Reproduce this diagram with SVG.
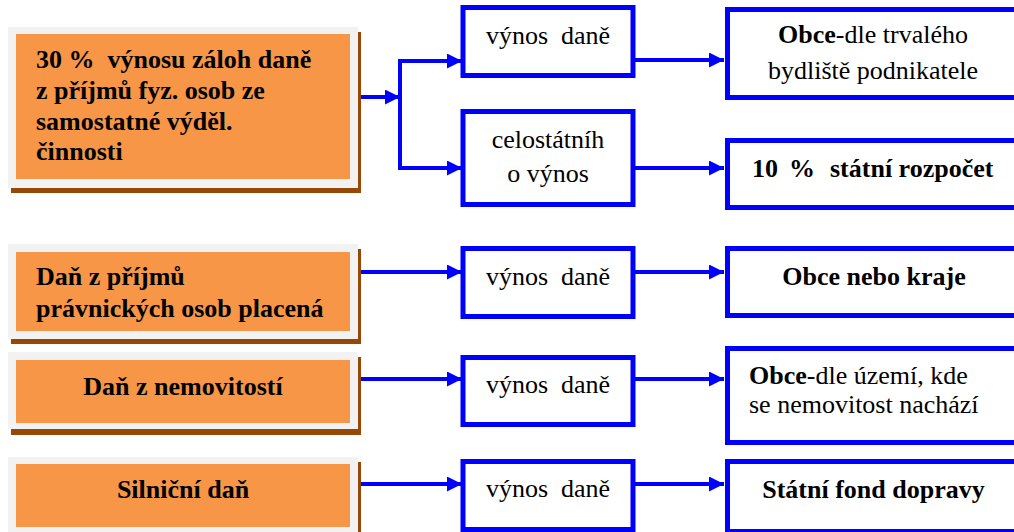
<svg xmlns="http://www.w3.org/2000/svg" width="1014" height="532" viewBox="0 0 1014 532">
<style>
.shadow{fill:#974806}
.frame{fill:#F2F2F2}
.orange{fill:#F79646}
text{font-family:'Liberation Serif','DejaVu Serif',serif;font-size:26px;fill:#000}
.bt{font-weight:bold}
.box{fill:#fff;stroke:#0000FF;stroke-width:5}
.conn{fill:none;stroke:#0000FF;stroke-width:4}
</style>
<defs>
<marker id="ah" viewBox="0 0 15 15" refX="15" refY="7.5" markerWidth="15" markerHeight="15" markerUnits="userSpaceOnUse" orient="auto">
<path d="M0,0 L15,7.5 L0,15 z" fill="#0000FF"/>
</marker>
</defs>
<rect width="1014" height="532" fill="#fff"/>

<g id="connectors">
<line class="conn" x1="354" y1="97" x2="400" y2="97" marker-end="url(#ah)"/>
<polyline class="conn" points="462,61 400,61 400,168 462,168"/>
<line class="conn" x1="440" y1="61" x2="462" y2="61" marker-end="url(#ah)"/>
<line class="conn" x1="440" y1="168" x2="462" y2="168" marker-end="url(#ah)"/>
<line class="conn" x1="635" y1="60" x2="724" y2="60" marker-end="url(#ah)"/>
<line class="conn" x1="635" y1="168" x2="724" y2="168" marker-end="url(#ah)"/>
<line class="conn" x1="354" y1="272" x2="462" y2="272" marker-end="url(#ah)"/>
<line class="conn" x1="635" y1="272" x2="724" y2="272" marker-end="url(#ah)"/>
<line class="conn" x1="354" y1="379" x2="462" y2="379" marker-end="url(#ah)"/>
<line class="conn" x1="635" y1="379" x2="724" y2="379" marker-end="url(#ah)"/>
<line class="conn" x1="354" y1="484" x2="462" y2="484" marker-end="url(#ah)"/>
<line class="conn" x1="635" y1="484" x2="724" y2="484" marker-end="url(#ah)"/>
</g>

<g id="src1">
<rect class="shadow" x="11" y="32" width="350" height="161"/>
<rect class="frame" x="8" y="27" width="350" height="161"/>
<rect class="orange" x="16" y="34" width="334" height="145"/>
<text class="bt" xml:space="preserve"><tspan x="36" y="68">30 %  výnosu záloh daně</tspan><tspan x="36" y="99">z příjmů fyz. osob ze</tspan><tspan x="36" y="130">samostatné výděl.</tspan><tspan x="36" y="160">činnosti</tspan></text>
</g>
<g id="src2">
<rect class="shadow" x="11" y="249" width="350" height="95"/>
<rect class="frame" x="8" y="244" width="350" height="95"/>
<rect class="orange" x="16" y="252" width="334" height="79"/>
<text class="bt"><tspan x="36" y="285">Daň z příjmů</tspan><tspan x="36" y="317">právnických osob placená</tspan></text>
</g>
<g id="src3">
<rect class="shadow" x="11" y="357" width="350" height="78"/>
<rect class="frame" x="8" y="352" width="350" height="77"/>
<rect class="orange" x="16" y="360" width="334" height="63"/>
<text class="bt" x="183" y="395" text-anchor="middle">Daň z nemovitostí</text>
</g>
<g id="src4">
<rect class="shadow" x="11" y="462" width="350" height="80"/>
<rect class="frame" x="8" y="457" width="350" height="80"/>
<rect class="orange" x="16" y="464" width="334" height="63"/>
<text class="bt" x="183" y="498" text-anchor="middle">Silniční daň</text>
</g>

<g id="mid1">
<rect class="box" x="463" y="7.5" width="170" height="68"/>
<text x="548" y="44" text-anchor="middle" xml:space="preserve">výnos  daně</text>
</g>
<g id="mid2">
<rect class="box" x="463" y="111.5" width="170" height="93"/>
<text text-anchor="middle"><tspan x="548" y="148">celostátníh</tspan><tspan x="548" y="182">o výnos</tspan></text>
</g>
<g id="mid3">
<rect class="box" x="463" y="248.5" width="170" height="68"/>
<text x="548" y="285" text-anchor="middle" xml:space="preserve">výnos  daně</text>
</g>
<g id="mid4">
<rect class="box" x="463" y="357.5" width="170" height="67"/>
<text x="548" y="393" text-anchor="middle" xml:space="preserve">výnos  daně</text>
</g>
<g id="mid5">
<rect class="box" x="463" y="461.5" width="170" height="68"/>
<text x="548" y="497" text-anchor="middle" xml:space="preserve">výnos  daně</text>
</g>

<g id="dst1">
<rect class="box" x="727.5" y="9.5" width="300" height="88"/>
<text x="873" y="43" text-anchor="middle"><tspan font-weight="bold">Obce</tspan>-dle trvalého</text>
<text x="873" y="79" text-anchor="middle">bydliště podnikatele</text>
</g>
<g id="dst2">
<rect class="box" x="727.5" y="140.5" width="300" height="67"/>
<text class="bt"><tspan x="752" y="177">10</tspan><tspan x="789" y="177">%</tspan><tspan x="830" y="177">státní rozpočet</tspan></text>
</g>
<g id="dst3">
<rect class="box" x="727.5" y="248.5" width="300" height="67"/>
<text class="bt" x="874" y="285" text-anchor="middle">Obce nebo kraje</text>
</g>
<g id="dst4">
<rect class="box" x="727.5" y="348.5" width="300" height="94"/>
<text><tspan x="749" y="384"><tspan font-weight="bold">Obce</tspan>-dle území, kde</tspan><tspan x="749" y="413">se nemovitost nachází</tspan></text>
</g>
<g id="dst5">
<rect class="box" x="727.5" y="461.5" width="300" height="70"/>
<text class="bt" x="873.5" y="498" text-anchor="middle">Státní fond dopravy</text>
</g>
</svg>
